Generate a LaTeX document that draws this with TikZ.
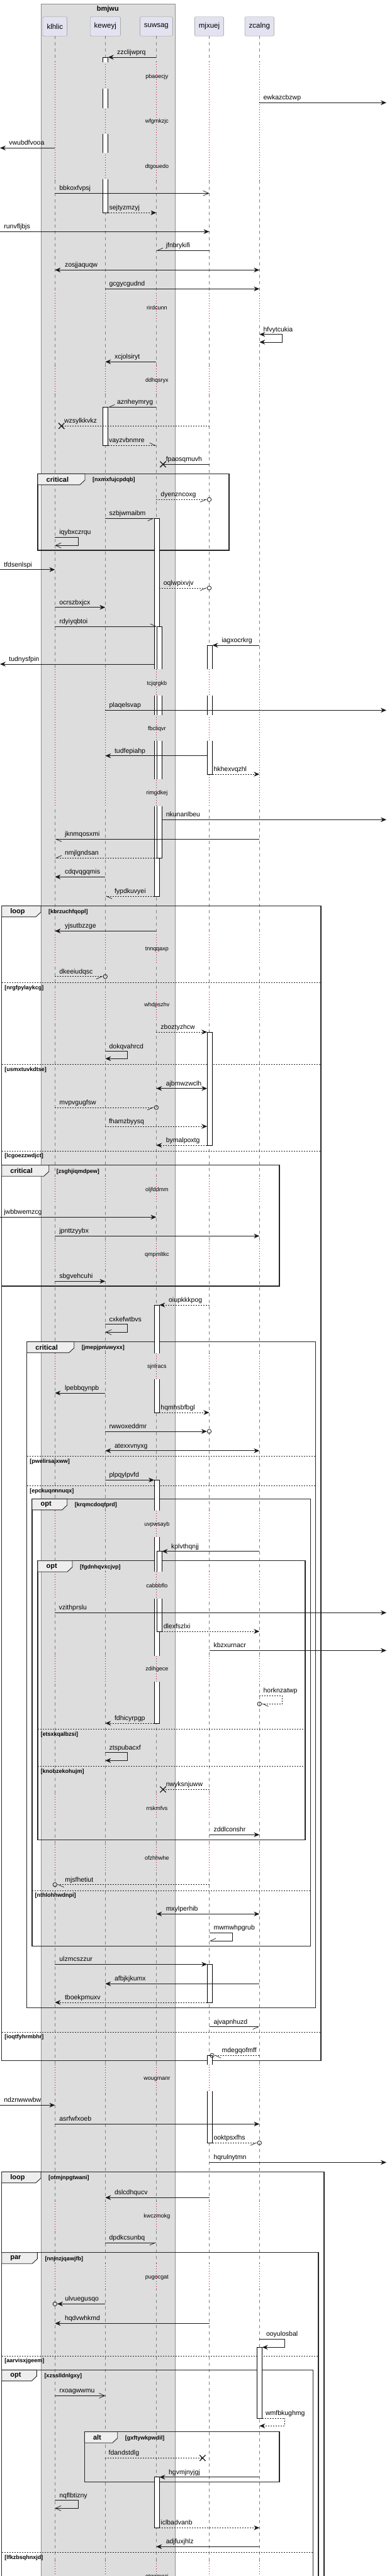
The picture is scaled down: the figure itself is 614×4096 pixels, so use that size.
\documentclass[tikz,border=0pt]{standalone}
\usepackage{fontspec}
\setmainfont{Liberation Sans}
\usetikzlibrary{arrows.meta,shapes.misc}

\definecolor{boxgray}{HTML}{DDDDDD}
\definecolor{partfill}{HTML}{E2E2F0}
\definecolor{partline}{HTML}{909090}
\definecolor{lifegray}{HTML}{808080}
\definecolor{dlyred}{HTML}{A80036}
\definecolor{tabfill}{HTML}{EEEEEE}

\tikzset{
  msgline/.style={draw=black!90, line width=0.7pt},
  dsh/.style={dash pattern=on 2pt off 2pt},
  sync/.style={msgline, -{Stealth[length=9pt,width=7.5pt,inset=3pt]}},
  rply/.style={sync, dsh},
  opn/.style={msgline, -{Straight Barb[length=9pt,width=8pt]}},
  hl/.style={msgline, -{Straight Barb[harpoon,length=9pt,width=8pt]}},
  hr/.style={msgline, -{Straight Barb[harpoon,swap,length=9pt,width=8pt]}},
  both/.style={msgline, {Stealth[length=9pt,width=7.5pt,inset=3pt]}-{Stealth[length=9pt,width=7.5pt,inset=3pt]}},
  lbl/.style={anchor=base west, inner sep=0pt, yshift=4.5pt, font=\fontsize{10.5}{12}\selectfont},
  dly/.style={inner sep=0pt, font=\fontsize{9}{10}\selectfont},
  part/.style={draw=partline, fill=partfill, rounded corners=1.5pt, minimum height=30.5pt, inner xsep=6.5pt, font=\fontsize{11.5}{13}\selectfont},
  life/.style={lifegray, line width=0.7pt, dash pattern=on 5pt off 5pt},
  dotl/.style={dlyred, line width=0.8pt, dash pattern=on 1pt off 3pt},
  frm/.style={draw=black!85, line width=1.2pt},
  tabst/.style={draw=black!85, line width=0.9pt, fill=tabfill},
  tabtxt/.style={anchor=west, inner sep=0pt, font=\bfseries\fontsize{11}{12}\selectfont},
  cnd/.style={anchor=west, inner sep=0pt, font=\bfseries\fontsize{9}{10}\selectfont},
  actst/.style={draw=black, line width=0.8pt},
  circ/.style={circle, draw=black!90, line width=0.8pt, minimum size=6.5pt, inner sep=0pt},
  xmk/.style={cross out, draw=black!90, line width=1.3pt, minimum size=8pt, inner sep=0pt},
}

% delay band: dotted red lifelines between two heights
\newcommand{\delayband}[2]{%
  \foreach \pp/\cc in {klhlic/boxgray,keweyj/boxgray,suwsag/boxgray,mjxuej/white,zcalng/white}{
    \draw[\cc, line width=3pt] (\pp |- 0,#1) -- (\pp |- 0,#2);
    \draw[dotl] (\pp |- 0,#1) -- (\pp |- 0,#2);
  }}
% group frame: name, x0, y0, x1, y1, tab width, kind, condition
\newcommand{\grp}[8]{%
  \draw[frm] (#2,#3) rectangle (#4,#5);
  \draw[tabst] (#2,#3) -- ++(#6,0) -- ++(0,10) -- ++(-8,7.5) -- (#2,#3+17.5) -- cycle;
  \node[tabtxt] (#1k) at (#2+13.5,#3+9) {#7};
  \node[cnd] (#1c) at (#2+#6+12,#3+10) {#8};}
% else divider: name, x0, x1, y, label
\newcommand{\divd}[5]{%
  \draw[black!85, line width=0.7pt, dsh] (#2,#4) -- (#3,#4);
  \node[cnd] (#1) at (#2+4.5,#4+8.5) {#5};}
% activation boxes: lifeline, left, right, top, bottom
\newcommand{\actfull}[5]{\draw[actst, fill=white] ([xshift=#2pt]#1 |- 0,#4) rectangle ([xshift=#3pt]#1 |- 0,#5);}
\newcommand{\actside}[5]{\fill[white] ([xshift=#2pt]#1 |- 0,#4) rectangle ([xshift=#3pt]#1 |- 0,#5);
  \draw[actst] ([xshift=#2pt]#1 |- 0,#4) -- ([xshift=#2pt]#1 |- 0,#5) ([xshift=#3pt]#1 |- 0,#4) -- ([xshift=#3pt]#1 |- 0,#5);}
\newcommand{\acttop}[5]{\fill[white] ([xshift=#2pt]#1 |- 0,#4) rectangle ([xshift=#3pt]#1 |- 0,#5);
  \draw[actst] ([xshift=#2pt]#1 |- 0,#5) -- ([xshift=#2pt]#1 |- 0,#4) -- ([xshift=#3pt]#1 |- 0,#4) -- ([xshift=#3pt]#1 |- 0,#5);}
\newcommand{\actbot}[5]{\fill[white] ([xshift=#2pt]#1 |- 0,#4) rectangle ([xshift=#3pt]#1 |- 0,#5);
  \draw[actst] ([xshift=#2pt]#1 |- 0,#4) -- ([xshift=#2pt]#1 |- 0,#5) -- ([xshift=#3pt]#1 |- 0,#5) -- ([xshift=#3pt]#1 |- 0,#4);}

\begin{document}
\begin{tikzpicture}[x=1pt,y=-1pt]
\useasboundingbox (0,0) rectangle (614,4096);

% box bmjwu
\draw[draw=black!45, fill=boxgray] (65,6) rectangle (277.7,4110);
\node[font=\bfseries\fontsize{11}{12}\selectfont] (bmjwu) at (171.3,14.7) {bmjwu};

% participants
\node[part] (klhlic) at (87.3,42) {klhlic};
\node[part] (keweyj) at (167.3,42) {keweyj};
\node[part] (suwsag) at (248.4,42) {suwsag};
\node[part] (mjxuej) at (332.5,42) {mjxuej};
\node[part] (zcalng) at (412.3,42) {zcalng};
\coordinate (lft) at (0,0);
\coordinate (rgt) at (614,0);

% lifelines
\foreach \pp in {klhlic,keweyj,suwsag,mjxuej,zcalng}
  \draw[life] (\pp.south) -- (\pp |- 0,4100);

% delays
\delayband{98}{286.7}
\delayband{466}{513.3}
\delayband{581.7}{626.7}
\delayband{1064.3}{1281.7}
\delayband{1486}{1533.3}
\delayband{1576.7}{1621.7}
\delayband{1870}{1913.3}
\delayband{1973.3}{2015}
\delayband{2151.7}{2193.3}
\delayband{2402.3}{2444}
\delayband{2499.3}{2541.7}
\delayband{2632.7}{2674.3}
\delayband{2853.3}{2893.3}
\delayband{2933.3}{2975}
\delayband{3283.3}{3325}
\delayband{3500}{3546.7}
\delayband{3599.3}{3640}
\delayband{4071.7}{4100}

% groups
\grp{g1}{60}{753.3}{364}{875}{75}{critical}{[nxmxfujcpdqb]}
\grp{g2}{2.7}{1440.3}{510}{3276.7}{62.3}{loop}{[kbrzuchfqopl]}
\divd{g2a}{2.7}{510}{1562.3}{[nrgfpylaykcg]}
\divd{g2b}{2.7}{510}{1692.7}{[usmxtuvkdtse]}
\divd{g2c}{2.7}{510}{1830}{[lcgoezzwdjct]}
\divd{g2d}{2.7}{510}{3231}{[ioqtfyhrmbhr]}
\grp{g3}{2.7}{1852.7}{444}{2045}{75}{critical}{[zsghjiqmdpew]}
\grp{g4}{42.7}{2133.3}{501.7}{3192.3}{75}{critical}{[jmepjpnuwyxx]}
\divd{g4a}{42.7}{501.7}{2315.3}{[pwelirsajxww]}
\divd{g4b}{42.7}{501.7}{2362.3}{[epckuqnnnuqx]}
\grp{g5}{51}{2383.3}{493.3}{3094.3}{55.7}{opt}{[krqmcdoqtprd]}
\divd{g5a}{51}{493.3}{3006}{[nthlohhwdnpi]}
\grp{g6}{60}{2481.7}{485}{2925.7}{55}{opt}{[fgdnhqvxcjvp]}
\divd{g6a}{60}{485}{2749.3}{[etsxkqalbzsi]}
\divd{g6b}{60}{485}{2808.3}{[knobzekohujm]}
\grp{g7}{2.7}{3453.3}{515}{4110}{62.3}{loop}{[otmjnpgtwani]}
\grp{g8}{2.7}{3581.7}{506}{4110}{56.6}{par}{[nnjnzjqawjfb]}
\divd{g8a}{2.7}{506}{3746}{[aarvisxjgeem]}
\grp{g9}{2.7}{3768.3}{497.7}{4110}{55.6}{opt}{[xzsslldnlgxy]}
\divd{g9a}{2.7}{497.7}{4058.3}{[lfkzbsqhnxjd]}
\grp{g10}{134.3}{3866.7}{444}{3946.7}{52.4}{alt}{[gxftywkpwdil]}

% activations
\acttop{keweyj}{-4.3}{4.4}{91}{99.3}
\actside{keweyj}{-4.3}{4.4}{141}{171.7}
\actside{keweyj}{-4.3}{4.4}{213.3}{243.3}
\actbot{keweyj}{-4.3}{4.4}{285}{338.3}
\actfull{keweyj}{-4.3}{4.4}{647.3}{708.3}
\acttop{suwsag}{-3.3}{5}{824.3}{1064.3}
\actside{suwsag}{-3.3}{5}{1106}{1137.3}
\actside{suwsag}{-3.3}{5}{1178.3}{1239.3}
\actbot{suwsag}{-3.3}{5}{1281.7}{1425}
\acttop{suwsag}{1}{9}{996}{1064.3}
\actside{suwsag}{1}{9}{1106}{1137.3}
\actside{suwsag}{1}{9}{1178.3}{1239.3}
\actbot{suwsag}{1}{9}{1281.7}{1364.3}
\acttop{mjxuej}{-3.3}{5}{1026}{1064.3}
\actside{mjxuej}{-3.3}{5}{1106}{1137.3}
\actbot{mjxuej}{-3.3}{5}{1178.3}{1231}
\actfull{mjxuej}{-3.3}{5}{1641}{1821}
\acttop{suwsag}{-3.3}{5}{2075}{2151.7}
\actbot{suwsag}{-3.3}{5}{2193.3}{2246}
\acttop{suwsag}{-3.3}{5}{2353.3}{2402.3}
\actside{suwsag}{-3.3}{5}{2444}{2499.3}
\actside{suwsag}{-3.3}{5}{2541.7}{2632.7}
\actbot{suwsag}{-3.3}{5}{2674.3}{2740}
\acttop{suwsag}{1}{9}{2466.7}{2499.3}
\actbot{suwsag}{1}{9}{2541.7}{2594}
\actfull{mjxuej}{-3.3}{5}{3123.3}{3184}
\acttop{mjxuej}{-3.3}{5}{3268.3}{3283.3}
\actbot{mjxuej}{-3.3}{5}{3325}{3407.3}
\actfull{zcalng}{-4}{4.4}{3732.3}{3845}
\actfull{suwsag}{-3.3}{5}{3938.7}{4019.3}

% delay texts
\node[dly] (d1) at (249.3,121.7) {pbaoecjy};
\node[dly] (d2) at (249.3,193.3) {wfgmkzjc};
\node[dly] (d3) at (249.3,265.3) {dtgouedo};
\node[dly] (d4) at (249.3,489.3) {rirdcunn};
\node[dly] (d5) at (249.3,605.3) {ddhqsryx};
\node[dly] (d6) at (249.3,1086.7) {tcjqrgkb};
\node[dly] (d7) at (249.3,1159.3) {fbcliqvr};
\node[dly] (d8) at (249.3,1261) {rimgdkej};
\node[dly] (d9) at (249.3,1510) {tnnqqaxp};
\node[dly] (d10) at (249.3,1598.3) {whdpszhv};
\node[dly] (d11) at (249.3,1892.3) {oljfddmm};
\node[dly] (d12) at (249.3,1995) {qmpmltkc};
\node[dly] (d13) at (249.3,2173.3) {sjnlracs};
\node[dly] (d14) at (249.3,2424.3) {uvpwsayb};
\node[dly] (d15) at (249.3,2521) {cabbbflo};
\node[dly] (d16) at (249.3,2654.3) {zdihgece};
\node[dly] (d17) at (249.3,2875) {rrskmfvs};
\node[dly] (d18) at (249.3,2954.3) {ofzhhwhe};
\node[dly] (d19) at (249.3,3305.7) {wougmanr};
\node[dly] (d20) at (249.3,3524.3) {kwczmokg};
\node[dly] (d21) at (249.3,3621.7) {pugocgat};
\node[dly] (d22) at (249.3,4097) {qtqqmqzi};

% messages
\draw[sync] (suwsag |- 0,91) -- ([xshift=4.4pt]keweyj |- 0,91) node[lbl,xshift=14pt]{zzclijwprq};
\draw[sync] (zcalng |- 0,163.3) node[lbl,xshift=6pt]{ewkazcbzwp} -- (rgt |- 0,163.3);
\draw[sync] (klhlic |- 0,235.3) -- (lft |- 0,235.3) node[lbl,xshift=14pt]{vwubdfvooa};
\draw[opn] (klhlic |- 0,307.3) node[lbl,xshift=6.7pt]{bbkoxfvpsj} -- (mjxuej |- 0,307.3);
\draw[rply] ([xshift=4.4pt]keweyj |- 0,338.3) node[lbl,xshift=1.6pt]{sejtyzmzyj} -- (suwsag |- 0,338.3);
\draw[sync] (lft |- 0,368.3) node[lbl,xshift=6pt]{runvfljbjs} -- (mjxuej |- 0,368.3);
\draw[hr] (mjxuej |- 0,398.3) -- (suwsag |- 0,398.3) node[lbl,xshift=15pt]{jfnbrykifi};
\draw[both] (klhlic |- 0,429.3) node[lbl,xshift=15.4pt]{zosjjaquqw} -- (zcalng |- 0,429.3);
\draw[sync] (keweyj |- 0,459.3) node[lbl,xshift=6pt]{gcgycgudnd} -- (zcalng |- 0,459.3);
\draw[both] (zcalng |- 0,531.7) node[lbl,xshift=6pt]{hfvytcukia} -- ++(36,0) |- (zcalng |- 0,544);
\draw[sync] (suwsag |- 0,575.3) -- (keweyj |- 0,575.3) node[lbl,xshift=14.4pt]{xcjolsiryt};
\draw[hr] (suwsag |- 0,647.3) -- ([xshift=4.4pt]keweyj |- 0,647.3) node[lbl,xshift=14pt]{aznheymryg};
\node[xmk] (x1) at ([xshift=10.4pt]klhlic |- 0,677.3) {};
\draw[msgline,dsh] (mjxuej |- 0,677.3) -- (x1.center) node[lbl,xshift=4pt]{wzsylkkvkz};
\draw[hl,dsh] ([xshift=4.4pt]keweyj |- 0,708.3) node[lbl,xshift=1pt]{vayzvbnmre} -- (suwsag |- 0,708.3);
\node[xmk] (x2) at ([xshift=10.7pt]suwsag |- 0,738.3) {};
\draw[msgline] (mjxuej |- 0,738.3) -- (x2.center) node[lbl,xshift=4.3pt]{fpaosqmuvh};
\node[circ] (o1) at (mjxuej |- 0,794.3) {};
\draw[hr,dsh] (suwsag |- 0,794.3) node[lbl,xshift=6.7pt]{dyenzncoxg} -- (o1);
\draw[hr] (keweyj |- 0,824.3) node[lbl,xshift=6pt]{szbjwmaibm} -- ([xshift=-3.3pt]suwsag |- 0,824.3);
\draw[opn] (klhlic |- 0,854) node[lbl,xshift=6.7pt]{iqybxczrqu} -- ++(36.7,0) |- (klhlic |- 0,867.3);
\draw[sync] (lft |- 0,905.7) node[lbl,xshift=6pt]{tfdsenlspi} -- (klhlic |- 0,905.7);
\node[circ] (o2) at (mjxuej |- 0,935) {};
\draw[hr,dsh] ([xshift=5pt]suwsag |- 0,935) node[lbl,xshift=6pt]{oqlwpixvjv} -- (o2);
\draw[sync] (klhlic |- 0,965.7) node[lbl,xshift=6.7pt]{ocrszbxjcx} -- (keweyj |- 0,965.7);
\draw[hl] (klhlic |- 0,996) node[lbl,xshift=6.7pt]{rdyiyqbtoi} -- ([xshift=1pt]suwsag |- 0,996);
\draw[sync] (zcalng |- 0,1026) -- ([xshift=5pt]mjxuej |- 0,1026) node[lbl,xshift=14.4pt]{iagxocrkrg};
\draw[sync] ([xshift=-3.3pt]suwsag |- 0,1056) -- (lft |- 0,1056) node[lbl,xshift=14pt]{tudnysfpin};
\draw[sync] (keweyj |- 0,1129.3) node[lbl,xshift=6pt]{plaqelsvap} -- (rgt |- 0,1129.3);
\draw[sync] ([xshift=-3.3pt]mjxuej |- 0,1201.7) -- (keweyj |- 0,1201.7) node[lbl,xshift=14.4pt]{tudfepiahp};
\draw[rply] ([xshift=5pt]mjxuej |- 0,1231) node[lbl,xshift=1.7pt]{hkhexvqzhl} -- (zcalng |- 0,1231);
\draw[sync] ([xshift=9pt]suwsag |- 0,1303.3) node[lbl,xshift=6pt]{nkunanlbeu} -- (rgt |- 0,1303.3);
\draw[hl] (zcalng |- 0,1334.3) -- (klhlic |- 0,1334.3) node[lbl,xshift=15.4pt]{jknmqosxmi};
\draw[hr,dsh] ([xshift=1pt]suwsag |- 0,1364.3) -- (klhlic |- 0,1364.3) node[lbl,xshift=15.4pt]{nmjlgndsan};
\draw[sync] (keweyj |- 0,1394.3) -- (klhlic |- 0,1394.3) node[lbl,xshift=15.4pt]{cdqvqgqmis};
\draw[hl,dsh] ([xshift=-3.3pt]suwsag |- 0,1425) -- (keweyj |- 0,1425) node[lbl,xshift=14.4pt]{fypdkuvyei};
% loop kbrzuchfqopl
\draw[sync] (suwsag |- 0,1480.3) -- (klhlic |- 0,1480.3) node[lbl,xshift=15.4pt]{yjsutbzzge};
\node[circ] (o3) at (keweyj |- 0,1552.7) {};
\draw[hr,dsh] (klhlic |- 0,1552.7) node[lbl,xshift=6.7pt]{dkeeiudqsc} -- (o3);
\draw[rply] (suwsag |- 0,1641) node[lbl,xshift=6.7pt]{zboztyzhcw} -- ([xshift=-3.3pt]mjxuej |- 0,1641);
\draw[sync] (keweyj |- 0,1671.7) node[lbl,xshift=6pt]{dokqvahrcd} -- ++(35.4,0) |- (keweyj |- 0,1683.3);
\draw[both] (suwsag |- 0,1730.7) node[lbl,xshift=15pt]{ajbmwzwclh} -- ([xshift=-3.3pt]mjxuej |- 0,1730.7);
\node[circ] (o4) at (suwsag |- 0,1761) {};
\draw[hr,dsh] (klhlic |- 0,1761) node[lbl,xshift=6.7pt]{mvpvgugfsw} -- (o4);
\draw[rply] (keweyj |- 0,1791) node[lbl,xshift=5.4pt]{fhamzbyysq} -- ([xshift=-3.3pt]mjxuej |- 0,1791);
\draw[rply] ([xshift=-3.3pt]mjxuej |- 0,1821) -- (suwsag |- 0,1821) node[lbl,xshift=15pt]{bymalpoxtg};
\draw[sync] (lft |- 0,1935.3) node[lbl,xshift=6pt]{jwbbwemzcg} -- (suwsag |- 0,1935.3);
\draw[sync] (klhlic |- 0,1965.3) node[lbl,xshift=6.7pt]{jpnttzyybx} -- (zcalng |- 0,1965.3);
\draw[sync] (klhlic |- 0,2037.3) node[lbl,xshift=6.7pt]{sbgvehcuhi} -- (keweyj |- 0,2037.3);
\draw[rply] (mjxuej |- 0,2075) -- ([xshift=5pt]suwsag |- 0,2075) node[lbl,xshift=14.4pt]{oiupkkkpog};
\draw[opn] (keweyj |- 0,2105.7) node[lbl,xshift=6pt]{cxkefwtbvs} -- ++(35.4,0) |- (keweyj |- 0,2118.3);
% critical jmepjpnuwyxx
\draw[sync] (keweyj |- 0,2215) -- (klhlic |- 0,2215) node[lbl,xshift=15.4pt]{lpebbqynpb};
\draw[rply] ([xshift=5pt]suwsag |- 0,2246) node[lbl,xshift=1.7pt]{hqmhsbfbgl} -- (mjxuej |- 0,2246);
\node[circ] (o5) at (mjxuej |- 0,2276) {};
\draw[sync] (keweyj |- 0,2276) node[lbl,xshift=6pt]{rwwoxeddmr} -- (o5);
\draw[both] (keweyj |- 0,2306.7) node[lbl,xshift=14.4pt]{atexxvnyxg} -- (zcalng |- 0,2306.7);
\draw[sync] (keweyj |- 0,2353.3) node[lbl,xshift=6pt]{plpqylpvfd} -- ([xshift=-3.3pt]suwsag |- 0,2353.3);
\draw[sync] (zcalng |- 0,2466.7) -- ([xshift=9pt]suwsag |- 0,2466.7) node[lbl,xshift=14.4pt]{kplvthqnjj};
\draw[sync] (klhlic |- 0,2564.3) node[lbl,xshift=6pt]{vzithprslu} -- (rgt |- 0,2564.3);
\draw[rply] ([xshift=9pt]suwsag |- 0,2594) node[lbl,xshift=2pt]{dlexfszlxi} -- (zcalng |- 0,2594);
\draw[sync] (mjxuej |- 0,2624.3) node[lbl,xshift=6.7pt]{kbzxurnacr} -- (rgt |- 0,2624.3);
\node[circ] (o6) at (zcalng |- 0,2709.3) {};
\draw[hl,dsh] (zcalng |- 0,2696) node[lbl,xshift=6pt]{horknzatwp} -- ++(36,0) |- (o6);
\draw[rply] ([xshift=-3.3pt]suwsag |- 0,2740) -- (keweyj |- 0,2740) node[lbl,xshift=14.4pt]{fdhicyrpgp};
\draw[sync] (keweyj |- 0,2786.7) node[lbl,xshift=6pt]{ztspubacxf} -- ++(35.4,0) |- (keweyj |- 0,2799.3);
\node[xmk] (x3) at ([xshift=10.7pt]suwsag |- 0,2845.3) {};
\draw[msgline,dsh] (mjxuej |- 0,2845.3) -- (x3.center) node[lbl,xshift=4.3pt]{nwyksnjuww};
\draw[sync] (mjxuej |- 0,2917.3) node[lbl,xshift=6.7pt]{zddlconshr} -- (zcalng |- 0,2917.3);
\node[circ] (o7) at (klhlic |- 0,2996.7) {};
\draw[hl,dsh] (mjxuej |- 0,2996.7) -- (o7) node[lbl,pos=1,xshift=12pt]{mjsfhetiut};
\draw[both] (suwsag |- 0,3043.3) node[lbl,xshift=15pt]{mxylperhib} -- (zcalng |- 0,3043.3);
\draw[hr] (mjxuej |- 0,3073.3) node[lbl,xshift=6.7pt]{mwmwhpgrub} -- ++(36.7,0) |- (mjxuej |- 0,3086);
\draw[sync] (klhlic |- 0,3123.3) node[lbl,xshift=6.7pt]{ulzmcszzur} -- ([xshift=-3.3pt]mjxuej |- 0,3123.3);
\draw[sync] (zcalng |- 0,3154.3) -- (keweyj |- 0,3154.3) node[lbl,xshift=14.4pt]{afbjkjkumx};
\draw[rply] ([xshift=-3.3pt]mjxuej |- 0,3184) -- (klhlic |- 0,3184) node[lbl,xshift=15.4pt]{tboekpmuxv};
\draw[hr] (mjxuej |- 0,3222.7) node[lbl,xshift=6.7pt]{ajvapnhuzd} -- (zcalng |- 0,3222.7);
\node[circ] (o8) at ([xshift=4.4pt]mjxuej |- 0,3268.3) {};
\draw[hl,dsh] (zcalng |- 0,3268.3) -- (o8) node[lbl,pos=1,xshift=11.7pt]{mdegqofmff};
\draw[sync] (lft |- 0,3347.3) node[lbl,xshift=6pt]{ndznwwwbw} -- (klhlic |- 0,3347.3);
\draw[sync] (klhlic |- 0,3377.3) node[lbl,xshift=6.7pt]{asrfwfxoeb} -- (zcalng |- 0,3377.3);
\node[circ] (o9) at (zcalng |- 0,3407.3) {};
\draw[hr,dsh] ([xshift=5pt]mjxuej |- 0,3407.3) node[lbl,xshift=1.7pt]{ooktpsxfhs} -- (o9);
\draw[sync] (mjxuej |- 0,3438.3) node[lbl,xshift=6.7pt]{hqrulnytmn} -- (rgt |- 0,3438.3);
% loop otmjnpgtwani
\draw[sync] (mjxuej |- 0,3494.3) -- (keweyj |- 0,3494.3) node[lbl,xshift=14.4pt]{dslcdhqucv};
\draw[hr] (keweyj |- 0,3566) node[lbl,xshift=6pt]{dpdkcsunbq} -- (suwsag |- 0,3566);
\node[circ] (o10) at (klhlic |- 0,3663.3) {};
\draw[sync] (keweyj |- 0,3663.3) -- (o10) node[lbl,pos=1,xshift=12pt]{ulvuegusqo};
\draw[sync] (mjxuej |- 0,3694.3) -- (klhlic |- 0,3694.3) node[lbl,xshift=15.4pt]{hqdvwhkmd};
\draw[sync] (zcalng |- 0,3719.3) node[lbl,xshift=10.4pt]{ooyulosbal} -- ++(40,0) |- ([xshift=4.4pt]zcalng |- 0,3732.3);
\draw[opn] (klhlic |- 0,3809.3) node[lbl,xshift=6.7pt]{rxoagwwmu} -- (keweyj |- 0,3809.3);
\draw[rply] ([xshift=4.4pt]zcalng |- 0,3845) node[lbl,xshift=5pt]{wmfbkughmg} -- ++(35.6,0) |- (zcalng |- 0,3857.3);
\node[xmk] (x4) at ([xshift=-10.6pt]mjxuej |- 0,3908.3) {};
\draw[msgline,dsh] (keweyj |- 0,3908.3) node[lbl,xshift=5pt]{fdandstdlg} -- (x4.center);
\draw[sync] (zcalng |- 0,3938.7) -- ([xshift=5pt]suwsag |- 0,3938.7) node[lbl,xshift=14.4pt]{hgvmjnyjgj};
\draw[opn] (klhlic |- 0,3975.7) node[lbl,xshift=6.7pt]{nqflbtizny} -- ++(36.7,0) |- (klhlic |- 0,3988.3);
\draw[rply] ([xshift=5pt]suwsag |- 0,4019.3) node[lbl,xshift=1.7pt]{iclbadvanb} -- (zcalng |- 0,4019.3);
\draw[sync] (zcalng |- 0,4049.3) -- (suwsag |- 0,4049.3) node[lbl,xshift=15pt]{adjfuxjhlz};
\end{tikzpicture}
\end{document}
